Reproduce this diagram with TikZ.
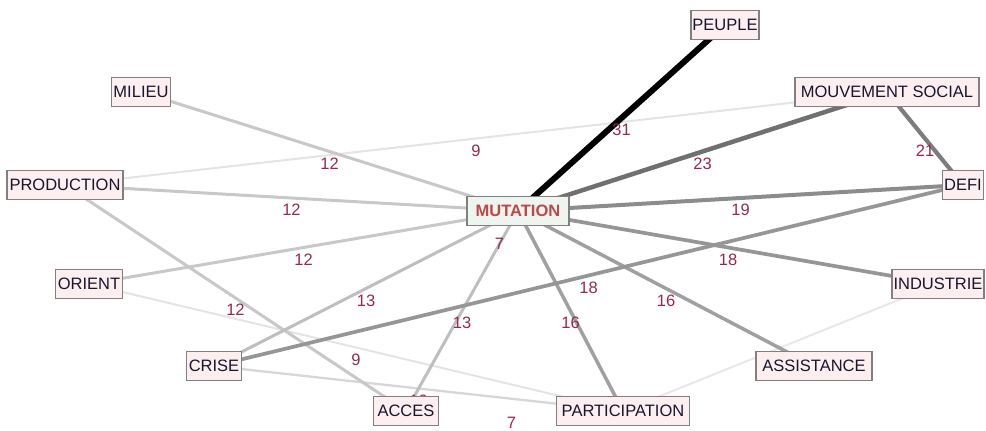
\documentclass[tikz,border=0pt]{standalone}
\usepackage{fontspec}
\setmainfont{Liberation Sans}
\usetikzlibrary{backgrounds}
\pgfdeclarelayer{edgelabels}
\pgfsetlayers{background,edgelabels,main}
\definecolor{nodefill}{RGB}{253,238,240}
\definecolor{nodeborder}{RGB}{128,128,128}
\definecolor{nodetext}{RGB}{22,22,45}
\definecolor{centerfill}{RGB}{238,244,238}
\definecolor{centertext}{RGB}{188,72,72}
\definecolor{lbl}{RGB}{150,40,80}
\definecolor{w31}{RGB}{0,0,0}
\definecolor{w23}{RGB}{112,112,112}
\definecolor{w21}{RGB}{125,125,125}
\definecolor{w19}{RGB}{140,140,140}
\definecolor{w18}{RGB}{150,150,150}
\definecolor{w16}{RGB}{160,160,160}
\definecolor{w13}{RGB}{190,190,190}
\definecolor{w12}{RGB}{200,200,200}
\definecolor{w10}{RGB}{215,215,215}
\definecolor{w9}{RGB}{228,228,228}
\definecolor{w8}{RGB}{232,232,232}
\tikzset{
  term/.style={draw=nodeborder, line width=1.3pt, fill=nodefill, text=nodetext,
    font=\fontsize{16.5}{19}\selectfont, minimum height=29pt, inner xsep=0pt, inner ysep=0pt},
  core/.style={term, fill=centerfill, text=centertext, font=\fontsize{16.5}{19}\selectfont\bfseries},
  wlabel/.style={midway, yshift=-12pt, text=lbl, font=\fontsize{16.5}{19}\selectfont, inner sep=0pt},
  edge/.style={line cap=butt}
}
\begin{document}
\begin{tikzpicture}[x=1pt,y=-1pt]
\useasboundingbox (0,0) rectangle (986,431);
\node[core, minimum width=102pt] (mut) at (518,211) {MUTATION};
\node[term, minimum width=68pt] (peu) at (725,25) {PEUPLE};
\node[term, minimum width=184pt] (mou) at (887,92) {MOUVEMENT SOCIAL};
\node[term, minimum width=41pt] (def) at (963,185) {DEFI};
\node[term, minimum width=59pt] (mil) at (141,92) {MILIEU};
\node[term, minimum width=116pt] (pro) at (65,185) {PRODUCTION};
\node[term, minimum width=67pt] (ori) at (89,284) {ORIENT};
\node[term, minimum width=55pt] (cri) at (214,366) {CRISE};
\node[term, minimum width=65pt] (acc) at (406,411) {ACCES};
\node[term, minimum width=133pt] (par) at (623,411) {PARTICIPATION};
\node[term, minimum width=116pt] (ass) at (814,366) {ASSISTANCE};
\node[term, minimum width=92pt] (ind) at (938,284) {INDUSTRIE};
\begin{scope}[on background layer]
  \draw[edge, w8, line width=2pt] (ind.center) -- (par.center);
  \draw[edge, w9, line width=2pt] (pro.center) -- (mou.center);
  \draw[edge, w9, line width=2pt] (ori.center) -- (par.center);
  \draw[edge, w10, line width=2.3pt] (cri.center) -- (par.center);
  \draw[edge, w12, line width=3pt] (pro.center) -- (acc.center);
  \draw[edge, w12, line width=3pt] (mut.center) -- (mil.center);
  \draw[edge, w12, line width=3pt] (mut.center) -- (pro.center);
  \draw[edge, w12, line width=3pt] (mut.center) -- (ori.center);
  \draw[edge, w13, line width=3pt] (mut.center) -- (cri.center);
  \draw[edge, w13, line width=3pt] (mut.center) -- (acc.center);
  \draw[edge, w16, line width=3.5pt] (mut.center) -- (par.center);
  \draw[edge, w16, line width=3.5pt] (mut.center) -- (ass.center);
  \draw[edge, w18, line width=3.7pt] (mut.center) -- (ind.center);
  \draw[edge, w18, line width=3.7pt] (cri.center) -- (def.center);
  \draw[edge, w19, line width=4pt] (mut.center) -- (def.center);
  \draw[edge, w21, line width=4.2pt] (mou.center) -- (def.center);
  \draw[edge, w23, line width=4.5pt] (mut.center) -- (mou.center);
  \draw[edge, w31, line width=6pt] (mut.center) -- (peu.center);
\end{scope}
\begin{pgfonlayer}{edgelabels}
  \path (pro.center) -- (ind.center) node[wlabel, xshift=-2pt, yshift=3pt]{7};
  \path (acc.center) -- (par.center) node[wlabel, xshift=-3pt]{7};
  \path (pro.center) -- (mou.center) node[wlabel]{9};
  \path (ori.center) -- (par.center) node[wlabel]{9};
  \path (cri.center) -- (par.center) node[wlabel]{10};
  \path (pro.center) -- (acc.center) node[wlabel]{12};
  \path (mut.center) -- (mil.center) node[wlabel]{12};
  \path (mut.center) -- (pro.center) node[wlabel]{12};
  \path (mut.center) -- (ori.center) node[wlabel]{12};
  \path (mut.center) -- (cri.center) node[wlabel]{13};
  \path (mut.center) -- (acc.center) node[wlabel]{13};
  \path (mut.center) -- (par.center) node[wlabel]{16};
  \path (mut.center) -- (ass.center) node[wlabel]{16};
  \path (mut.center) -- (ind.center) node[wlabel]{18};
  \path (cri.center) -- (def.center) node[wlabel]{18};
  \path (mut.center) -- (def.center) node[wlabel]{19};
  \path (mou.center) -- (def.center) node[wlabel]{21};
  \path (mut.center) -- (mou.center) node[wlabel]{23};
  \path (mut.center) -- (peu.center) node[wlabel]{31};
\end{pgfonlayer}
\end{tikzpicture}
\end{document}
